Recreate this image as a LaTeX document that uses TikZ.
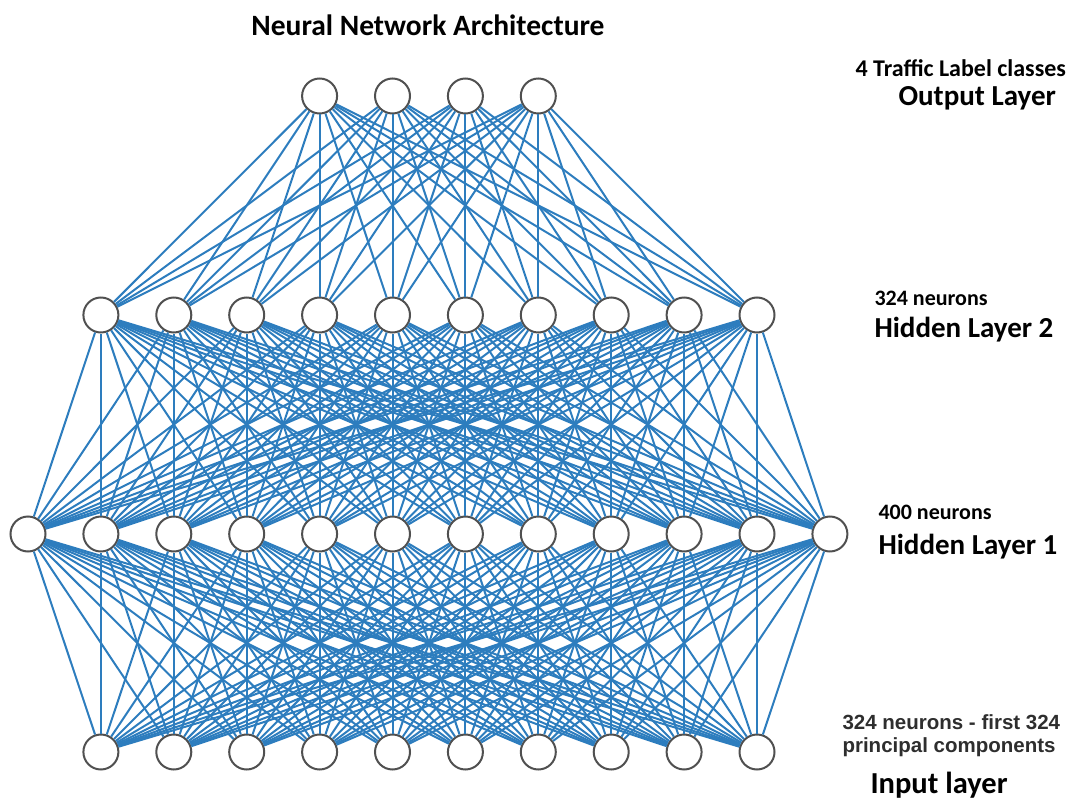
\documentclass[tikz,border=0pt]{standalone}
\usepackage{fontspec}
\setmainfont{Carlito}
\newfontfamily\arialfont{Liberation Sans}
\definecolor{edgeblue}{RGB}{45,125,190}
\definecolor{ringgray}{RGB}{80,80,80}
\begin{document}
\begin{tikzpicture}[x=1pt, y=-1pt,
		neuron/.style={circle, draw=ringgray, fill=white, line width=2pt, minimum size=35pt, inner sep=0pt},
		link/.style={edgeblue, line width=2pt},
		layername/.style={font=\fontsize{29}{31}\selectfont\bfseries, anchor=west},
		layerinfo/.style={font=\fontsize{22}{24}\selectfont\bfseries, anchor=west}]
	\useasboundingbox (0,0) rectangle (1079,805);
	% neurons
	\foreach \i in {0,...,11} \node[neuron] (h1\i) at (28+72.9*\i,534) {};
	\foreach \i in {1,...,10} \node[neuron] (h2\i) at (28+72.9*\i,315) {};
	\foreach \i in {1,...,10} \node[neuron] (in\i) at (28+72.9*\i,752) {};
	\foreach \i in {4,...,7} \node[neuron] (out\i) at (28+72.9*\i,96) {};
	% connections
	\foreach \a in {1,...,10} \foreach \b in {0,...,11} \draw[link] (in\a) -- (h1\b);
	\foreach \a in {0,...,11} \foreach \b in {1,...,10} \draw[link] (h1\a) -- (h2\b);
	\foreach \a in {1,...,10} \foreach \b in {4,...,7} \draw[link] (h2\a) -- (out\b);
	% texts
	\node[font=\fontsize{29.5}{31}\selectfont\bfseries] (title) at (428,25) {Neural Network Architecture};
	\node[font=\fontsize{24}{26}\selectfont\bfseries, anchor=west] (outinfo) at (852,68) {4 Traffic Label classes};
	\node[layername] (outname) at (895,98) {Output Layer};
	\node[layerinfo] (h2info) at (871,298) {324 neurons};
	\node[layername] (h2name) at (871,330) {Hidden Layer 2};
	\node[layerinfo] (h1info) at (875,512) {400 neurons};
	\node[layername] (h1name) at (875,547) {Hidden Layer 1};
	\node[font=\arialfont\bfseries\fontsize{20.5}{23}\selectfont, text=black!82, align=left, anchor=west] (ininfo) at (839,736) {324 neurons - first 324\\principal components};
	\node[layername, font=\fontsize{30.5}{32}\selectfont\bfseries] (inname) at (867,785) {Input layer};
\end{tikzpicture}
\end{document}
